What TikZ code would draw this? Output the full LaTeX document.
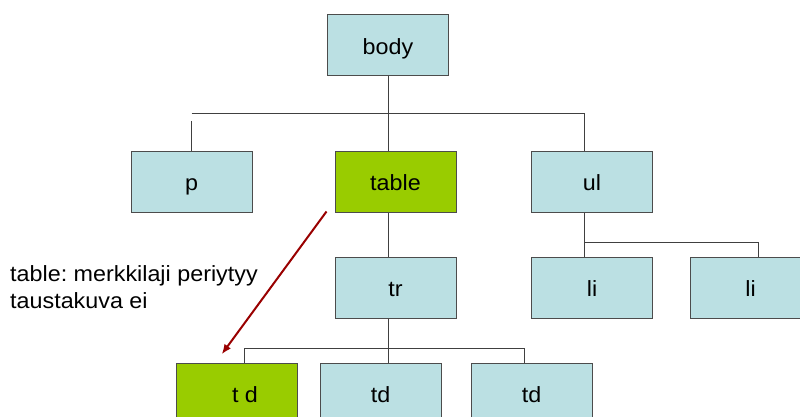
\documentclass[tikz,border=0pt]{standalone}
\usepackage{fontspec}
\setmainfont{Liberation Sans}[FakeStretch=1.06]
\usetikzlibrary{arrows.meta}
\definecolor{boxblue}{RGB}{187,224,227}
\definecolor{boxgreen}{RGB}{153,204,0}
\definecolor{arrowred}{RGB}{153,0,0}
\frenchspacing

\begin{document}
\begin{tikzpicture}[x=1pt,y=-1pt,
  box/.style={draw=black!70, line width=1pt, fill=boxblue, minimum width=121pt, minimum height=61pt, inner sep=0pt, text height=20pt, text depth=2.6pt, font=\fontsize{22}{26}\selectfont},
  hibox/.style={box, fill=boxgreen},
  link/.style={draw=black!75, line width=1pt}]
\useasboundingbox (0,0) rectangle (800,417);

% Tree nodes
\node[box] (body) at (388,45.5) {body};
\node[box] (p) at (191.5,181.5) {p};
\node[hibox] (table) at (395.5,181.5) {table};
\node[box] (ul) at (592,181.5) {ul};
\node[box] (tr) at (395.5,287.5) {tr};
\node[box] (li1) at (592,287.5) {li};
\node[box] (li2) at (750.5,287.5) {li};
\node[hibox] (td1) at (237,393.5) {\hspace*{16pt}t d};
\node[box] (td2) at (380.5,393.5) {td};
\node[box] (td3) at (531.5,393.5) {td};

% Branch points
\coordinate (toprow) at (0,113.5);
\coordinate (pstub) at (191.5,121);
\coordinate (ulline) at (584.5,0);
\coordinate (lirow) at (0,242);
\coordinate (li2line) at (758.5,0);
\coordinate (tdrow) at (0,348);
\coordinate (td1line) at (244.5,0);
\coordinate (td3line) at (524,0);

% Connectors
\draw[link] (pstub |- toprow) -- (ulline |- toprow);
\draw[link] (pstub) -- (p.north);
\draw[link] (body.south) -- (body.south |- table.north);
\draw[link] (ulline |- toprow) -- (ulline |- ul.north);
\draw[link] (body.south |- table.south) -- (body.south |- tr.north);
\draw[link] (ulline |- ul.south) -- (ulline |- li1.north);
\draw[link] (ulline |- lirow) -- (li2line |- lirow) -- (li2line |- li2.north);
\draw[link] (body.south |- tr.south) -- (body.south |- td2.north);
\draw[link] (td1line |- td1.north) -- (td1line |- tdrow) -- (td3line |- tdrow) -- (td3line |- td3.north);

% Inheritance note
\coordinate (arrowstart) at (326.5,211.5);
\coordinate (arrowend) at (221.7,354.3);
\draw[arrowred, line width=2pt, -{Latex[length=10pt,width=8pt]}] (arrowstart) -- (arrowend);
\node[anchor=north west, inner sep=0pt, align=left, font=\fontsize{22}{27}\selectfont] (note) at (10,265) {table: merkkilaji periytyy\\taustakuva ei};
\end{tikzpicture}
\end{document}
